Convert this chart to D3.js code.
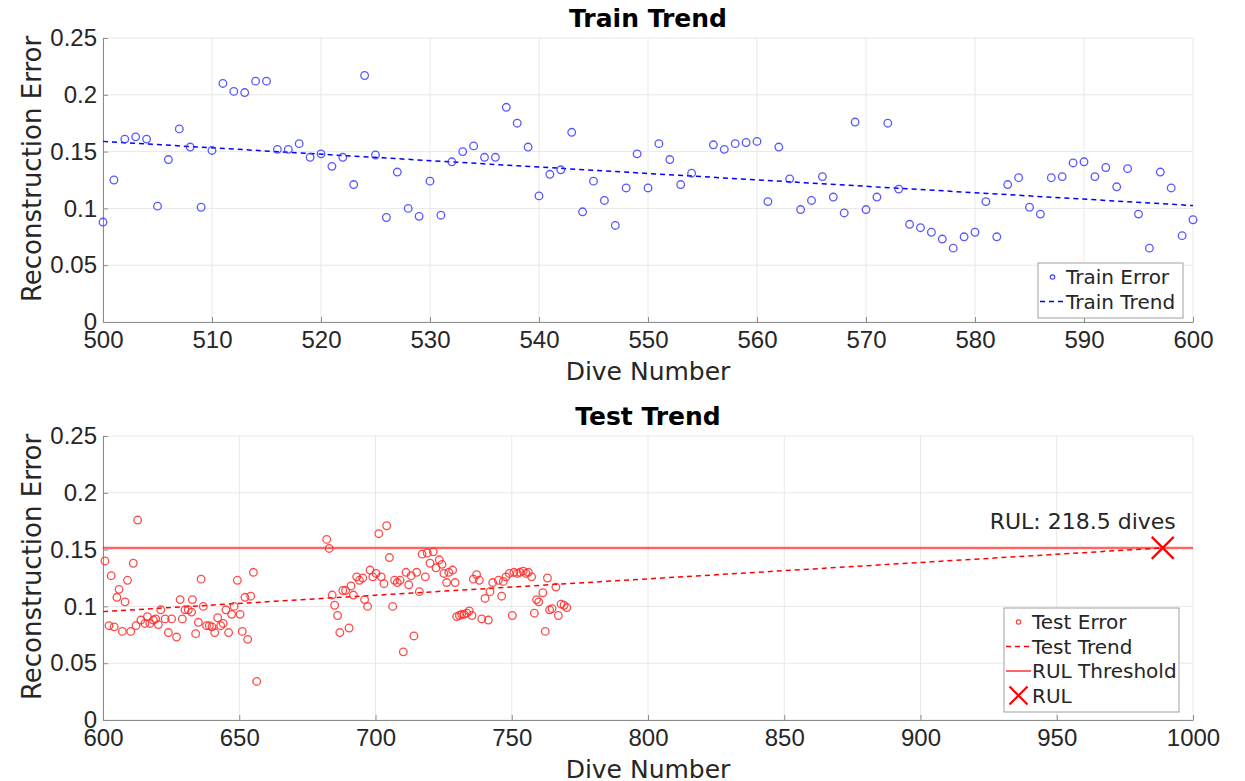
<!DOCTYPE html>
<html>
<head>
<meta charset="utf-8">
<script src="https://cdn.jsdelivr.net/npm/d3@7"></script>
<style>
  body { margin: 0; background: #fff; }
  svg { font-family: "DejaVu Sans", sans-serif; }
</style>
</head>
<body>
<div id="chart"></div>
<script>
// ---- data ----
var trainDive = [500,501,502,503,504,505,506,507,508,509,510,511,512,513,514,515,516,517,518,519,
  520,521,522,523,524,525,526,527,528,529,530,531,532,533,534,535,536,537,538,539,
  540,541,542,543,544,545,546,547,548,549,550,551,552,553,554,556,557,558,559,560,
  561,562,563,564,565,566,567,568,569,570,571,572,573,574,575,576,577,578,579,580,
  581,582,583,584,585,586,587,588,589,590,591,592,593,594,595,596,597,598,599,600];
var trainErr = [0.088,0.125,0.161,0.163,0.161,0.102,0.143,0.170,0.154,0.101,0.151,0.210,0.203,0.202,0.212,0.212,0.152,0.152,0.157,0.145,
  0.148,0.137,0.145,0.121,0.217,0.147,0.092,0.132,0.100,0.093,0.124,0.094,0.141,0.150,0.155,0.145,0.145,0.189,0.175,0.154,
  0.111,0.130,0.134,0.167,0.097,0.124,0.107,0.085,0.118,0.148,0.118,0.157,0.143,0.121,0.131,0.156,0.152,0.157,0.158,0.159,
  0.106,0.154,0.126,0.099,0.107,0.128,0.110,0.096,0.176,0.099,0.110,0.175,0.117,0.086,0.083,0.079,0.073,0.065,0.075,0.079,
  0.106,0.075,0.121,0.127,0.101,0.095,0.127,0.128,0.140,0.141,0.128,0.136,0.119,0.135,0.095,0.065,0.132,0.118,0.076,0.090];
var trainTrendX = [500, 600];
var trainTrendY = [0.159, 0.1025];

var testDive = [600.7,602.2,603,604.1,605.1,605.9,607.1,608.1,609,610.2,611.1,612.1,612.7,613.9,615.4,616.3,617.2,618.5,619.3,620.3,
  621.2,622.8,624,625.2,627,628.3,629.1,630.1,631.3,632.5,632.8,634,635,636,636.8,638,639,640,641,642.1,
  643.2,644.1,645.1,646.1,647.2,648.1,649.3,650.3,651.1,652.1,653.1,654.2,655.2,656.4,
  682.1,683,684.1,685,686.1,686.9,688,689,690.3,691,691.9,693.1,694.1,695.3,696,697.1,698,699,700.2,701.2,
  702.1,703.1,704.1,705.1,706.3,707,708,709,710.2,711.2,712.2,713.1,714.1,715.1,716.1,717.1,718.3,719,720,721.2,
  722.2,723.4,724.4,725.1,726.1,726.9,728.3,729.2,729.8,730.8,731.6,732.5,733.5,734.4,735.4,735.9,737.1,738.1,739,740.2,
  741.4,742,743,745.1,746.3,746.9,747.9,749.1,750.2,750.8,752,753,754.2,755.2,756.1,757.3,758.3,759.1,759.9,761.4,
  762.3,763.1,763.9,764.8,766.2,767.1,768.1,769.2,770.2];
var testErr = [0.140,0.083,0.127,0.082,0.108,0.115,0.078,0.104,0.123,0.078,0.138,0.083,0.176,0.088,0.085,0.091,0.085,0.088,0.089,0.084,
  0.097,0.089,0.077,0.089,0.073,0.106,0.089,0.097,0.097,0.095,0.106,0.076,0.086,0.124,0.100,0.083,0.083,0.082,0.077,0.090,
  0.083,0.085,0.097,0.077,0.093,0.100,0.123,0.093,0.078,0.108,0.071,0.109,0.130,0.034,
  0.159,0.151,0.110,0.101,0.092,0.077,0.114,0.114,0.081,0.118,0.110,0.126,0.123,0.125,0.106,0.100,0.132,0.126,0.129,0.164,
  0.126,0.120,0.171,0.143,0.100,0.123,0.121,0.123,0.060,0.130,0.119,0.127,0.074,0.130,0.113,0.146,0.126,0.147,0.138,0.148,
  0.134,0.141,0.137,0.129,0.121,0.130,0.132,0.121,0.091,0.092,0.093,0.093,0.094,0.096,0.092,0.124,0.128,0.123,0.089,0.107,
  0.088,0.113,0.121,0.123,0.109,0.122,0.126,0.129,0.092,0.130,0.129,0.130,0.131,0.129,0.130,0.126,0.094,0.106,0.104,0.112,
  0.078,0.125,0.097,0.098,0.117,0.092,0.102,0.101,0.099];
var testTrendX = [600, 988.9];
var testTrendY = [0.0954, 0.1515];
var rulThreshold = 0.1515;
var rulDive = 988.9;
var rulLabel = "RUL: 218.5 dives";

var yTicks = [0, 0.05, 0.1, 0.15, 0.2, 0.25];
var trainXTicks = [500,510,520,530,540,550,560,570,580,590,600];
var testXTicks = [600,650,700,750,800,850,900,950,1000];

var W = 1245, H = 781;
var textCol = "#262626";

var svg = d3.select("#chart").append("svg")
  .attr("width", W).attr("height", H);

function zip(a, b){
  var out = [];
  for(var i = 0; i < a.length; i++){ out.push([a[i], b[i]]); }
  return out;
}

// one axes panel, returns scales + group
function panel(top, xDomain, xTicks, title){
  var left = 103, right = 1193, bottom = top + 284;
  var x = d3.scaleLinear().domain(xDomain).range([left, right]);
  var y = d3.scaleLinear().domain([0, 0.25]).range([bottom, top]);
  var g = svg.append("g");

  // grid
  g.selectAll(".gx").data(xTicks).enter().append("line")
    .attr("x1", function(d){ return x(d); }).attr("x2", function(d){ return x(d); })
    .attr("y1", top).attr("y2", bottom)
    .attr("stroke", "#e8e8e8").attr("stroke-width", 1);
  g.selectAll(".gy").data(yTicks).enter().append("line")
    .attr("x1", left).attr("x2", right)
    .attr("y1", function(d){ return y(d); }).attr("y2", function(d){ return y(d); })
    .attr("stroke", "#e8e8e8").attr("stroke-width", 1);

  var xAxis = d3.axisBottom(x).tickValues(xTicks).tickSizeInner(-5).tickSizeOuter(0)
    .tickPadding(9).tickFormat(d3.format("d"));
  var yAxis = d3.axisLeft(y).tickValues(yTicks).tickSizeInner(-5).tickSizeOuter(0)
    .tickPadding(6).tickFormat(function(d){ return d === 0 ? "0" : String(+d.toFixed(2)); });

  var gx = g.append("g").attr("transform", "translate(0," + bottom + ")").call(xAxis);
  var gy = g.append("g").attr("transform", "translate(" + left + ",0)").call(yAxis);
  [gx, gy].forEach(function(a){
    a.select(".domain").attr("stroke", "#8c8c8c").attr("stroke-width", 1);
    a.selectAll(".tick line").attr("stroke", "#8c8c8c");
    a.selectAll(".tick text").attr("fill", textCol).style("font-size", "24px");
  });

  svg.append("text").attr("x", (left + right) / 2).attr("y", top - 11)
    .attr("text-anchor", "middle").style("font-size", "25px").style("font-weight", "bold")
    .attr("fill", "#000").text(title);
  svg.append("text").attr("x", (left + right) / 2).attr("y", bottom + 58)
    .attr("text-anchor", "middle").style("font-size", "25px")
    .attr("fill", textCol).text("Dive Number");
  svg.append("text")
    .attr("transform", "translate(41," + ((top + bottom) / 2 - 11) + ") rotate(-90)")
    .attr("text-anchor", "middle").style("font-size", "26px")
    .attr("fill", textCol).text("Reconstruction Error");

  return {x: x, y: y, g: g};
}

function legend(x0, y0, w, rows){
  var g = svg.append("g");
  g.append("rect").attr("x", x0).attr("y", y0).attr("width", w).attr("height", rows.length * 24.5 + 6)
    .attr("fill", "#fff").attr("stroke", "#a0a0a0").attr("stroke-width", 1);
  rows.forEach(function(r, i){
    var cy = y0 + 14 + i * 24.5;
    var sx = x0 + 2, ex = x0 + 27;
    if(r.type === "circle"){
      g.append("circle").attr("cx", (sx + ex) / 2).attr("cy", cy).attr("r", 2.2)
        .attr("fill", "none").attr("stroke", r.col).attr("stroke-width", 1.2).attr("opacity", 0.75);
    } else if(r.type === "x"){
      var c = (sx + ex) / 2;
      g.append("path").attr("d", "M" + (c - 9) + "," + (cy - 9) + "L" + (c + 9) + "," + (cy + 9) +
        "M" + (c - 9) + "," + (cy + 9) + "L" + (c + 9) + "," + (cy - 9))
        .attr("stroke", r.col).attr("stroke-width", 2.2);
    } else {
      g.append("line").attr("x1", sx).attr("x2", ex).attr("y1", cy).attr("y2", cy)
        .attr("stroke", r.col).attr("stroke-width", r.width || 1.5)
        .attr("stroke-dasharray", r.dash || null).attr("opacity", r.op || 1);
    }
    g.append("text").attr("x", ex + 1).attr("y", cy + 7).style("font-size", "20px")
      .attr("fill", textCol).text(r.label);
  });
}

// ---- Train panel ----
var p1 = panel(38, [500, 600], trainXTicks, "Train Trend");
var line1 = d3.line().x(function(d){ return p1.x(d[0]); }).y(function(d){ return p1.y(d[1]); });
p1.g.append("path").datum(zip(trainTrendX, trainTrendY)).attr("d", line1)
  .attr("fill", "none").attr("stroke", "#0000ff").attr("stroke-width", 1.5).attr("stroke-dasharray", "5,4");
p1.g.selectAll(".tr").data(zip(trainDive, trainErr)).enter().append("circle")
  .attr("cx", function(d){ return p1.x(d[0]); }).attr("cy", function(d){ return p1.y(d[1]); })
  .attr("r", 3.8).attr("fill", "none").attr("stroke", "#3a3aff").attr("stroke-width", 1.3).attr("opacity", 0.85);

legend(1038, 263, 145, [
  {type: "circle", col: "#0000ff", label: "Train Error"},
  {type: "line", col: "#0000ff", dash: "5,4", label: "Train Trend"}
]);

// ---- Test panel ----
var p2 = panel(436, [600, 1000], testXTicks, "Test Trend");
var line2 = d3.line().x(function(d){ return p2.x(d[0]); }).y(function(d){ return p2.y(d[1]); });
p2.g.append("line").attr("x1", p2.x(600)).attr("x2", p2.x(1000))
  .attr("y1", p2.y(rulThreshold)).attr("y2", p2.y(rulThreshold))
  .attr("stroke", "#ff0000").attr("stroke-width", 2.2).attr("opacity", 0.6);
p2.g.append("path").datum(zip(testTrendX, testTrendY)).attr("d", line2)
  .attr("fill", "none").attr("stroke", "#ff0000").attr("stroke-width", 1.5).attr("stroke-dasharray", "5,4");
p2.g.selectAll(".te").data(zip(testDive, testErr)).enter().append("circle")
  .attr("cx", function(d){ return p2.x(d[0]); }).attr("cy", function(d){ return p2.y(d[1]); })
  .attr("r", 3.8).attr("fill", "none").attr("stroke", "#ff2a2a").attr("stroke-width", 1.3).attr("opacity", 0.85);

// RUL marker + label
var rx = p2.x(rulDive), ry = p2.y(rulThreshold);
p2.g.append("path").attr("d", "M" + (rx - 11) + "," + (ry - 11) + "L" + (rx + 11) + "," + (ry + 11) +
  "M" + (rx - 11) + "," + (ry + 11) + "L" + (rx + 11) + "," + (ry - 11))
  .attr("stroke", "#ff0000").attr("stroke-width", 2.2);
p2.g.append("text").attr("x", rx - 80).attr("y", ry - 19).attr("text-anchor", "middle")
  .style("font-size", "22px").attr("fill", textCol).text(rulLabel);

legend(1004, 608, 175, [
  {type: "circle", col: "#ff0000", label: "Test Error"},
  {type: "line", col: "#ff0000", dash: "5,4", label: "Test Trend"},
  {type: "line", col: "#ff0000", width: 2, op: 0.6, label: "RUL Threshold"},
  {type: "x", col: "#ff0000", label: "RUL"}
]);
</script>
</body>
</html>
